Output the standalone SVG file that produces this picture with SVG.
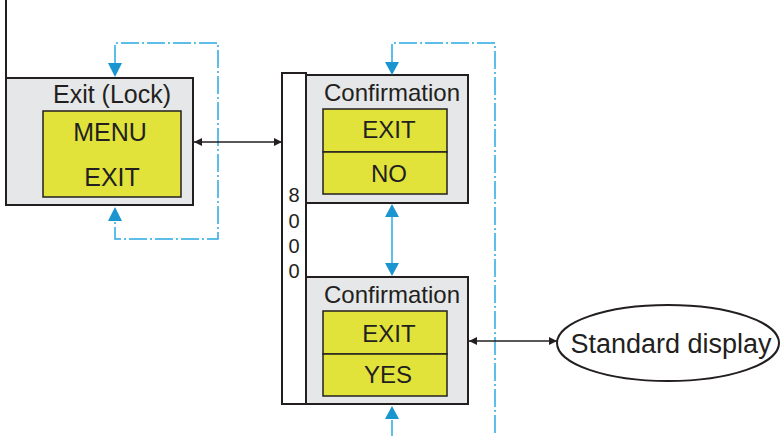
<svg xmlns="http://www.w3.org/2000/svg" width="782" height="436" viewBox="0 0 782 436">
<defs>
<style>
.box{fill:#e6e7e8;stroke:#231f20;stroke-width:2}
.lcd{fill:#e2e33a;stroke:#231f20;stroke-width:1.5}
.t{font-family:"Liberation Sans",Arial,sans-serif;fill:#231f20;text-anchor:middle}
.blk{fill:none;stroke:#231f20;stroke-width:1.5}
.dd{fill:none;stroke:#29abe2;stroke-width:1.5;stroke-dasharray:18 3 2 3}
.bl{fill:none;stroke:#29abe2;stroke-width:1.5}
.ah{fill:#1b95d0}
</style>
<marker id="ka" viewBox="0 0 10 10" refX="10" refY="5" markerWidth="9" markerHeight="8" markerUnits="userSpaceOnUse" orient="auto-start-reverse"><path d="M0,0 L10,5 L0,10 Z" fill="#231f20"/></marker>
</defs>
<line x1="6" y1="0" x2="6" y2="79" stroke="#231f20" stroke-width="2"/>
<g id="exit-lock">
<rect class="box" x="6" y="78" width="187" height="127"/>
<text class="t" x="112" y="103" font-size="25">Exit (Lock)</text>
<rect class="lcd" x="43" y="111" width="138" height="86"/>
<text class="t" x="110" y="141" font-size="25">MENU</text>
<text class="t" x="112" y="186" font-size="25">EXIT</text>
</g>
<g id="bar8000">
<rect x="282" y="73" width="24" height="331" fill="#fff" stroke="#231f20" stroke-width="2"/>
<text class="t" x="294" y="202" font-size="20">8</text>
<text class="t" x="294" y="228" font-size="20">0</text>
<text class="t" x="294" y="253" font-size="20">0</text>
<text class="t" x="294" y="278" font-size="20">0</text>
</g>
<g id="confirm-no">
<rect class="box" x="306" y="75" width="162" height="128"/>
<text class="t" x="392" y="101" font-size="24">Confirmation</text>
<rect class="lcd" x="323" y="109" width="124" height="43"/>
<rect class="lcd" x="323" y="152" width="124" height="42"/>
<text class="t" x="389" y="138" font-size="24">EXIT</text>
<text class="t" x="389" y="182" font-size="24">NO</text>
</g>
<g id="confirm-yes">
<rect class="box" x="306" y="277" width="162" height="127"/>
<text class="t" x="392" y="303" font-size="24">Confirmation</text>
<rect class="lcd" x="323" y="311" width="124" height="43"/>
<rect class="lcd" x="323" y="354" width="124" height="42"/>
<text class="t" x="389" y="342" font-size="24">EXIT</text>
<text class="t" x="388" y="383" font-size="24">YES</text>
</g>
<g id="standard-display">
<ellipse cx="668" cy="343" rx="111" ry="38" fill="#fff" stroke="#231f20" stroke-width="2"/>
<text class="t" x="671" y="353" font-size="27">Standard display</text>
</g>
<g id="connectors">
<path class="dd" d="M115,63 V43 H218 V239 H115 V221"/>
<polygon class="ah" points="108,63 122,63 115,77"/>
<polygon class="ah" points="108,221 122,221 115,207"/>
<path class="dd" d="M392,62 V43 H495 V436"/>
<polygon class="ah" points="385,62 399,62 392,75"/>
<line class="bl" x1="392" y1="215" x2="392" y2="265"/>
<polygon class="ah" points="385,217 399,217 392,204"/>
<polygon class="ah" points="385,263 399,263 392,276"/>
<line class="bl" x1="392" y1="420" x2="392" y2="436"/>
<polygon class="ah" points="385,419 399,419 392,406"/>
<line class="blk" x1="194" y1="142" x2="282" y2="142" marker-start="url(#ka)" marker-end="url(#ka)"/>
<line class="blk" x1="469" y1="341" x2="557" y2="341" marker-start="url(#ka)" marker-end="url(#ka)"/>
</g>
</svg>
